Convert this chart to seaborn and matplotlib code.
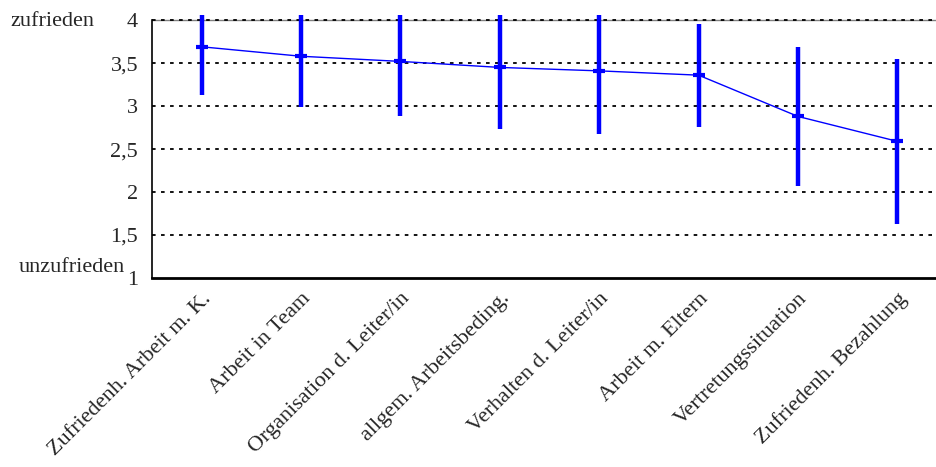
import matplotlib
matplotlib.use('Agg')
import matplotlib.pyplot as plt
import seaborn as sns
import pandas as pd

# data
categories = ['Zufriedenh. Arbeit m. K.', 'Arbeit in Team', 'Organisation d. Leiter/in',
              'allgem. Arbeitsbeding.', 'Verhalten d. Leiter/in', 'Arbeit m. Eltern',
              'Vertretungssituation', 'Zufriedenh. Bezahlung']
means = [3.69, 3.58, 3.52, 3.45, 3.41, 3.36, 2.88, 2.59]
sds = [0.56, 0.59, 0.63, 0.72, 0.74, 0.60, 0.81, 0.96]
yticks = [1, 1.5, 2, 2.5, 3, 3.5, 4]
ytick_labels = ['1', '1,5', '2', '2,5', '3', '3,5', '4']

sns.set_style('white')
plt.rcParams['font.family'] = ['Liberation Serif', 'DejaVu Serif']

df = pd.DataFrame({'cat': categories, 'mean': means, 'sd': sds})

fig = plt.figure(figsize=(9.36, 4.67), dpi=100)
W, H = 936, 467
ax = fig.add_axes([152 / W, 1 - 278 / H, 795 / W, 263 / H])

blue = '#0000FF'
ax.errorbar(range(len(categories)), df['mean'], yerr=df['sd'], fmt='none',
            ecolor=blue, elinewidth=3.2, capsize=0, zorder=3)
sns.pointplot(data=df, x='cat', y='mean', color=blue, marker='_', markersize=9,
              markeredgewidth=3, linewidth=1, errorbar=None, ax=ax, zorder=4)

ax.set_xlim(-0.5, 7.5)
ax.set_ylim(1, 4.06)

# dotted grid lines
for v in yticks[1:]:
    ax.axhline(v, color='black', linestyle=(0, (2, 3)), linewidth=1.3, zorder=1)
ax.axhline(4, color='gray', linewidth=1, zorder=0.5)

ax.set_yticks(yticks)
ax.set_yticklabels(ytick_labels, fontsize=16)
ax.set_xticks([i - 0.5 for i in range(1, len(categories))], minor=True)
ax.set_xticks(range(len(categories)))
ax.set_xticklabels(categories, rotation=45, ha='right', va='top',
                   rotation_mode='anchor', fontsize=16)
ax.tick_params(axis='x', which='major', length=0, pad=8)
ax.tick_params(axis='x', which='minor', length=10, direction='inout', color='#444444')
ax.tick_params(axis='y', length=5, direction='out', color='black', pad=5)
ax.set_xlabel('')
ax.set_ylabel('')

for s in ['top', 'right']:
    ax.spines[s].set_visible(False)
ax.spines['left'].set_bounds(1, 4)
ax.spines['left'].set_color('black')
ax.spines['left'].set_linewidth(1.2)
ax.spines['bottom'].set_color('black')
ax.spines['bottom'].set_linewidth(2)

fig.text(10 / W, 1 - 21 / H, 'zufrieden', fontsize=16, ha='left', va='center')
fig.text(125 / W, 1 - 268 / H, 'unzufrieden', fontsize=16, ha='right', va='center')

fig.savefig('out.png', dpi=100)
